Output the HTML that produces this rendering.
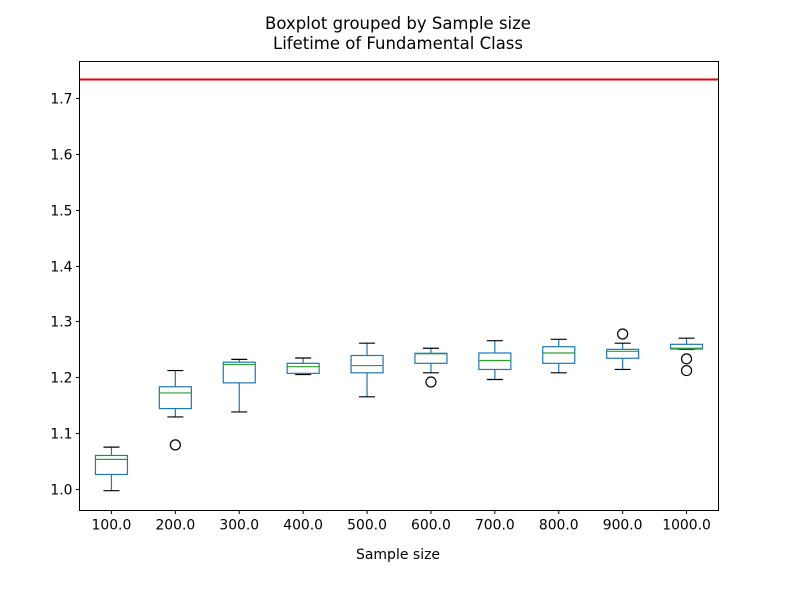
<!DOCTYPE html>
<html><head><meta charset="utf-8"><style>
body{margin:0;background:#fff;font-family:"Liberation Sans","DejaVu Sans",sans-serif}
svg text{font-family:"DejaVu Sans","Liberation Sans",sans-serif;fill:#000}
</style></head><body>
<svg id="chart" width="796" height="597" viewBox="0 0 796 597" xmlns="http://www.w3.org/2000/svg">
<text x="398" y="29" font-size="16.5" text-anchor="middle">Boxplot grouped by Sample size</text>
<text x="398" y="49" font-size="16.5" text-anchor="middle">Lifetime of Fundamental Class</text>
<g id="plot"></g>
<rect x="79.5" y="61.5" width="639" height="449" fill="none" stroke="#000" stroke-width="1"/>
<text x="398" y="559" font-size="14" text-anchor="middle">Sample size</text>
</svg>
<script>
const categories = ["100.0","200.0","300.0","400.0","500.0","600.0","700.0","800.0","900.0","1000.0"];
const whiskerLow = [0.997,1.129,1.138,1.205,1.165,1.208,1.196,1.208,1.214,1.250];
const q1 = [1.026,1.144,1.190,1.207,1.208,1.225,1.214,1.225,1.234,1.2506];
const medians = [1.053,1.172,1.223,1.219,1.221,1.242,1.230,1.2435,1.2465,1.252];
const q3 = [1.060,1.183,1.227,1.225,1.239,1.243,1.2435,1.2547,1.250,1.259];
const whiskerHigh = [1.075,1.212,1.232,1.2345,1.261,1.252,1.2655,1.268,1.261,1.270];
const outliers = [[],[1.079],[],[],[],[1.1915],[],[],[1.2775],[1.233,1.212]];
const refLine = [1.733];
const yTicks = [1.0,1.1,1.2,1.3,1.4,1.5,1.6,1.7];

const NS="http://www.w3.org/2000/svg";
const L=79.5,R=718.5,T=61.5,B=510.5;
function y(v){return 489 - (v-1.0)*558.6;}
function x(i){return L + (i+0.5)*(R-L)/categories.length;}
const g=document.getElementById('plot');
function mk(tag,attrs,parent){const e=document.createElementNS(NS,tag);for(const k in attrs)e.setAttribute(k,attrs[k]);(parent||g).appendChild(e);return e;}

yTicks.forEach(t=>{
  const yy=Math.round(y(t))+0.5;
  const tk=mk('line',{x1:L-3.5,x2:L,y1:yy,y2:yy,stroke:'#000'});
  
  
  const tl=mk('text',{x:L-7,y:yy+5,'font-size':'13.9','text-anchor':'end'});
  tl.textContent=t.toFixed(1);
  
  
});
categories.forEach((c,i)=>{
  const cx=x(i);
  const tk=mk('line',{x1:cx,x2:cx,y1:B,y2:B+3.5,stroke:'#000'});
  
  
  const tl=mk('text',{x:cx,y:B+19,'font-size':'13.9','text-anchor':'middle'});
  tl.textContent=c;
  
  
  const bw=32, cw=16;
  const grp=mk('g',{});
  
  
  mk('line',{x1:cx,x2:cx,y1:y(q3[i]),y2:y(whiskerHigh[i]),stroke:'#1f77b4','stroke-width':1.2},grp);
  mk('line',{x1:cx,x2:cx,y1:y(q1[i]),y2:y(whiskerLow[i]),stroke:'#1f77b4','stroke-width':1.2},grp);
  mk('line',{x1:cx-cw/2,x2:cx+cw/2,y1:y(whiskerHigh[i]),y2:y(whiskerHigh[i]),stroke:'#000','stroke-width':1.2},grp);
  mk('line',{x1:cx-cw/2,x2:cx+cw/2,y1:y(whiskerLow[i]),y2:y(whiskerLow[i]),stroke:'#000','stroke-width':1.2},grp);
  mk('rect',{x:cx-bw/2,y:y(q3[i]),width:bw,height:Math.max(0.5,y(q1[i])-y(q3[i])),fill:'none',stroke:'#1f77b4','stroke-width':1.2},grp);
  mk('line',{x1:cx-bw/2,x2:cx+bw/2,y1:y(medians[i]),y2:y(medians[i]),stroke:'#2ca02c','stroke-width':1.2},grp);
  outliers[i].forEach(o=>{
    const c2=mk('circle',{cx:cx,cy:y(o),r:5,fill:'none',stroke:'#000','stroke-width':1.2},grp);
    
    
  });
});
const rl=mk('line',{x1:L,x2:R,y1:y(refLine[0]),y2:y(refLine[0]),stroke:'#e00','stroke-width':2});


</script>
</body></html>
